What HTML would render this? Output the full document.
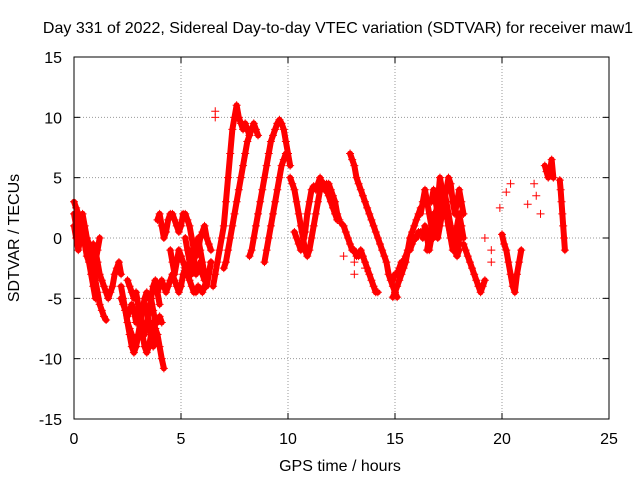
<!DOCTYPE html>
<html><head><meta charset="utf-8"><style>
body{margin:0;background:#fff;}
svg text{font-family:"Liberation Sans",sans-serif;font-size:16px;fill:#000;}
</style></head><body>
<svg id="chart" width="640" height="480" viewBox="0 0 640 480">
<text x="338" y="33" text-anchor="middle">Day 331 of 2022, Sidereal Day-to-day VTEC variation (SDTVAR) for receiver maw1</text>
<text x="340" y="471" text-anchor="middle">GPS time / hours</text>
<text transform="translate(19,238) rotate(-90)" text-anchor="middle">SDTVAR / TECUs</text>
<g id="grid"></g><g id="lines"></g><g id="marks"></g>
<rect x="74" y="57" width="535" height="362" fill="none" stroke="#000" stroke-width="1"/>
</svg>
<script>
const xTicks=[0,5,10,15,20,25];
const yTicks=[-15,-10,-5,0,5,10,15];
const trackStarts=[0,0,0.9,2.2,2.2,3.9,3.9,4.5,6.5,7.0,8.2,8.9,10.1,10.3,12.9,12.5,14.9,14.9,16.2,16.3,18.2,20.0,22.0,22.7,2.4,2.5,0,16.5,16.7,5.2];
const trackSteps=[0.1,0.1,0.1,0.1,0.1,0.1,0.1,0.1,0.1,0.1,0.1,0.1,0.1,0.1,0.1,0.1,0.1,0.1,0.1,0.1,0.1,0.1,0.08,0.04,0.1,0.1,0.1,0.1,0.1,0.1];
const trackValues=[
[3,2.5,2,1.5,1,0.5,0,-1,-1.5,-2.5,-3.5,-4.5,-5.5,-6,-6.5,-6.8],
[2,1,0,1,2,1,0,-0.5,-1,-1.5,-2,-1,0],
[-0.5,-1,-2,-3,-3.5,-4,-4.5,-5,-4.5,-4,-3,-2.5,-2,-3],
[-4,-5,-6,-7,-7.5,-8,-8.5,-9,-8,-7,-6,-5.5,-6,-7,-8,-9,-8.5,-8,-9,-10,-10.8],
[-5,-5.5,-6,-6.5,-6,-5.5,-6,-7,-7,-6.5,-6,-5,-4.5,-5,-5,-6,-7,-7,-6.5,-7],
[1.5,2,1,0,0.5,1.5,2,2,1.5,1,0.5,1,2,2,1.5,1,0,-1,-1.5,-1,0,0.5,1,0,-0.5,-1],
[-4.5,-4,-3.5,-4,-4.5,-4,-3.5,-3,-3.5,-4,-4.5,-4,-3,-2.5,-3,-3.5,-4,-4.5,-4.5,-4,-4.2,-4.5,-4,-3.5,-3,-2],
[-1,-2,-3,-2,-1,-1.5,-2,-2.5,-3,-2,-1,-2,-3,-2.5,-2,-3,-3.5,-3],
[-4,-3,-2,-1,0,1,3,5,7,9,10,11,10,9.5,9,9.5,9,8.5],
[-2.5,-2,-1,0,1,2,3,4,5,6,7,8,8.5,9,9.5,9,8.5],
[-1.5,-1,0,1,2,3,4,5,6,7,8,8.5,9,9.5,9.8,9.5,9,8,7,6],
[-2,-1,0,1,2,3,4,5,6,6.5,7],
[5,4.5,4,3,2,1,0,-1,-1.5,-1,0,1,2,3,4,4.5,4.5,4,3.5,3,2.5,2,1.5],
[0.5,0,-0.5,-1,-0.5,0.5,2,3,4,4.3,4,4.5,5,4.5,4,4.5,4.5,4,3.5,3,2,1.5],
[7,6.5,6,5,4.5,4,3.5,3,2.5,2,1.5,1,0.5,0,-0.5,-1,-1.5,-2,-3,-3.5,-4,-4.5,-4.9],
[1.2,1,0.5,0,-0.5,-1,-1,-1.5,-1.5,-1,-1.5,-2,-2.5,-3,-3.5,-4,-4.5,-4.5],
[-4.9,-4.5,-4,-3.5,-3,-2.5,-2,-1,0,0.5,1,1.5,2,2.5],
[-3.5,-3,-3,-2.5,-2,-2,-1.5,-1,-1,-0.5,0,0,0.5,0.5],
[2,3,4,3,2,1,0,1,2,3,4,4,3,2,1,0,-1,-1.5,-1],
[0,1,0,-1,0,1,2,3,5,4,3,2,1,0,-0.5,-1,-1.5,0,1,0],
[-0.5,-1,-1.5,-2,-2.5,-3,-3.5,-4,-4.5,-4,-3.5],
[0.3,-0.5,-1,-2,-3,-4,-4.5,-3,-2,-1],
[6,5.5,5,5.5,6.5,5],
[4.8,4,3,2,1,0,-1],
[-6,-7,-8,-9,-9.5,-9,-8,-7.5,-8,-9,-9.5,-9,-8,-7,-7.5,-8],
[-3.5,-4,-4.5,-5,-4.5,-5.5,-6.5,-7.5,-8,-7,-6,-5,-4,-3.5,-4.5,-5.5],
[1,0,-1,0,0.5,-0.5,-1.5,-2,-3,-4,-5],
[-1,0,1,2,1,0,1,2,3,2,1,0,-1,0,1,2,1],
[3,4,3,2,1.5,2,3,4,5,4.5,3,2,3,4,3,2],
[0,-1,-2,-3,-2,-1,0,-1,-2,-3,-4,-3,-2]
];
const isoTimes=[6.6,6.6,21.8,20.4,19.9,20.2,21.2,21.5,21.6,19.5,19.5,19.2,13.6,13.1,13.1,12.6,5.0];
const isoValues=[10,10.5,2,4.5,2.5,3.8,2.8,4.5,3.5,-1,-2,0,-2.5,-2,-3,-1.5,-1.5];
const NS="http://www.w3.org/2000/svg";
const xs=t=>74+t*(535/25);
const ys=v=>238-v*(362/30);
const grid=document.getElementById('grid'),lines=document.getElementById('lines'),marks=document.getElementById('marks'),svg=document.getElementById('chart');
function mk(tag,attrs,parent){const e=document.createElementNS(NS,tag);for(const k in attrs)e.setAttribute(k,attrs[k]);parent.appendChild(e);return e;}
xTicks.forEach(t=>{const x=xs(t);
 if(t>0&&t<25){const g=mk('line',{x1:x,x2:x,y1:57,y2:419,stroke:'#999','stroke-dasharray':'1,2'},grid);
 
 }
 mk('line',{x1:x,x2:x,y1:419,y2:413,stroke:'#000'},grid);mk('line',{x1:x,x2:x,y1:57,y2:63,stroke:'#000'},grid);
 const l=mk('text',{x:x,y:444,'text-anchor':'middle'},svg);l.textContent=t;
 
 });
yTicks.forEach(v=>{const y=ys(v);
 if(v>-15&&v<15){const g=mk('line',{x1:74,x2:609,y1:y,y2:y,stroke:'#999','stroke-dasharray':'1,2'},grid);
 
 }
 mk('line',{x1:74,x2:80,y1:y,y2:y,stroke:'#000'},grid);mk('line',{x1:609,x2:603,y1:y,y2:y,stroke:'#000'},grid);
 const l=mk('text',{x:62,y:y+6,'text-anchor':'end'},svg);l.textContent=v;
 
 });
function plus(t,v){const x=xs(t),y=ys(v);
 const p=mk('path',{d:`M${x-4},${y}h8M${x},${y-4}v8`,stroke:'#f00','stroke-width':1,fill:'none'},marks);
 
 }
trackValues.forEach((vals,i)=>{
 const st=trackSteps[i];
 const pts=vals.map((v,j)=>xs(trackStarts[i]+j*st)+','+ys(v)).join(' ');
 const pl=mk('polyline',{points:pts,fill:'none',stroke:'#f00','stroke-width':6,'stroke-linejoin':'round','stroke-linecap':'round'},lines);
 
 
 vals.forEach((v,j)=>plus(trackStarts[i]+j*st,v));
});
isoTimes.forEach((t,i)=>plus(t,isoValues[i]));
</script>
</body></html>
